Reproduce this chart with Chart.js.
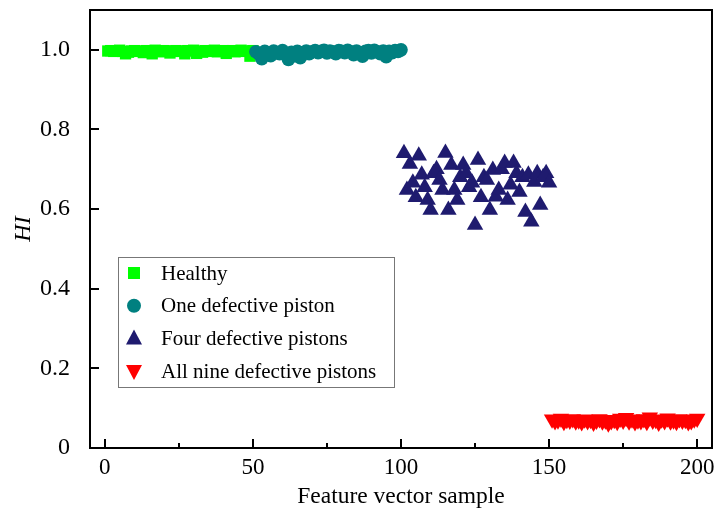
<!DOCTYPE html>
<html>
<head>
<meta charset="utf-8">
<script src="https://cdn.jsdelivr.net/npm/chart.js@4/dist/chart.umd.min.js"></script>
<style>
html,body{margin:0;padding:0;background:#fff;}
#wrap{width:716px;height:520px;}
</style>
</head>
<body>
<div id="wrap"><canvas id="c" width="716" height="520"></canvas></div>
<script>
// ---- data ----
const seriesNames = ["Healthy", "One defective piston", "Four defective pistons", "All nine defective pistons"];

const healthyX = [1,2,3,4,5,6,7,8,9,10,11,12,13,14,15,16,17,18,19,20,21,22,23,24,25,26,27,28,29,30,31,32,33,34,35,36,37,38,39,40,41,42,43,44,45,46,47,48,49,50];
const healthyY = [0.997,0.998,0.996,0.997,0.999,0.996,0.990,0.994,0.997,0.998,
                  0.996,0.997,0.993,0.998,0.997,0.990,0.999,0.997,0.995,0.998,
                  0.997,0.992,0.996,0.998,0.997,0.996,0.990,0.998,0.997,0.999,
                  0.991,0.997,0.994,0.998,0.996,0.997,0.999,0.995,0.997,0.998,
                  0.991,0.997,0.998,0.995,0.997,0.999,0.996,0.997,0.984,0.998];

const oneX = [51,52,53,54,55,56,57,58,59,60,61,62,63,64,65,66,67,68,69,70,71,72,73,74,75,76,77,78,79,80,81,82,83,84,85,86,87,88,89,90,91,92,93,94,95,96,97,98,99,100];
const oneY = [0.995,0.990,0.978,0.996,0.992,0.985,0.997,0.993,0.990,0.998,
              0.988,0.976,0.994,0.985,0.996,0.980,0.993,0.997,0.990,0.995,
              0.998,0.993,0.996,0.999,0.992,0.997,0.995,0.990,0.998,0.996,
              0.993,0.999,0.995,0.988,0.997,0.993,0.984,0.996,0.998,0.992,
              0.999,0.995,0.990,0.997,0.983,0.996,0.993,0.998,0.996,1.000];

const fourX = [101,102,103,104,105,106,107,108,109,110,111,112,113,114,115,116,117,118,119,120,121,122,123,124,125,126,127,128,129,130,131,132,133,134,135,136,137,138,139,140,141,142,143,144,145,146,147,148,149,150];
const fourY = [0.740,0.648,0.713,0.666,0.630,0.734,0.686,0.655,0.623,0.598,
               0.690,0.700,0.673,0.648,0.741,0.598,0.711,0.648,0.623,0.680,
               0.711,0.690,0.655,0.666,0.560,0.723,0.630,0.680,0.673,0.598,
               0.698,0.631,0.648,0.700,0.716,0.623,0.661,0.716,0.690,0.643,
               0.680,0.593,0.686,0.568,0.668,0.690,0.610,0.680,0.690,0.666];

const nineX = [151,152,153,154,155,156,157,158,159,160,161,162,163,164,165,166,167,168,169,170,171,172,173,174,175,176,177,178,179,180,181,182,183,184,185,186,187,188,189,190,191,192,193,194,195,196,197,198,199,200];
const nineY = [0.072,0.068,0.070,0.074,0.066,0.071,0.069,0.073,0.067,0.070,
               0.065,0.072,0.068,0.071,0.064,0.069,0.073,0.067,0.070,0.062,
               0.068,0.071,0.066,0.074,0.069,0.076,0.067,0.072,0.065,0.070,
               0.068,0.073,0.066,0.077,0.069,0.071,0.064,0.072,0.068,0.075,
               0.067,0.070,0.066,0.073,0.069,0.071,0.065,0.068,0.072,0.074];

const xTickValues = [0, 50, 100, 150, 200];
const xTickLabels = ["0", "50", "100", "150", "200"];
const xMinorTicks = [25, 75, 125, 175];
const yTickValues = [0, 0.2, 0.4, 0.6, 0.8, 1.0];
const yTickLabels = ["0", "0.2", "0.4", "0.6", "0.8", "1.0"];

const xTitle = "Feature vector sample";
const yTitle = "HI";

// ---- styling ----
const colors = ["#00ff00", "#008080", "#1f1b6f", "#ff0000"];
const FONT = "'Liberation Serif', 'Times New Roman', serif";

function pts(xs, ys) { return xs.map((x, i) => ({x: x, y: ys[i]})); }

function drawMarker(ctx, kind, x, y, color) {
  ctx.save();
  ctx.fillStyle = color;
  ctx.beginPath();
  if (kind === 0) {
    ctx.rect(x - 6, y - 6, 12, 12);
  } else if (kind === 1) {
    ctx.arc(x, y, 7, 0, Math.PI * 2);
  } else if (kind === 2) {
    ctx.moveTo(x, y - 9); ctx.lineTo(x + 8, y + 6); ctx.lineTo(x - 8, y + 6); ctx.closePath();
  } else {
    ctx.moveTo(x, y + 9); ctx.lineTo(x + 8, y - 6); ctx.lineTo(x - 8, y - 6); ctx.closePath();
  }
  ctx.fill();
  ctx.restore();
}

function noPad(s) { s.paddingTop = 0; s.paddingBottom = 0; s.paddingLeft = 0; s.paddingRight = 0; }

const framePlugin = {
  id: 'frame',
  afterDraw(chart) {
    const ctx = chart.ctx;
    const a = chart.chartArea;
    const xs = chart.scales.x, ys = chart.scales.y;
    ctx.save();
    ctx.strokeStyle = '#000';
    ctx.lineWidth = 2;
    ctx.strokeRect(a.left, a.top, a.right - a.left, a.bottom - a.top);
    ctx.beginPath();
    xTickValues.forEach(v => {
      const px = Math.round(xs.getPixelForValue(v));
      ctx.moveTo(px, a.bottom); ctx.lineTo(px, a.bottom - 9);
    });
    xMinorTicks.forEach(v => {
      const px = Math.round(xs.getPixelForValue(v));
      ctx.moveTo(px, a.bottom); ctx.lineTo(px, a.bottom - 5);
    });
    yTickValues.forEach(v => {
      const py = Math.round(ys.getPixelForValue(v));
      ctx.moveTo(a.left, py); ctx.lineTo(a.left + 9, py);
    });
    ctx.stroke();

    // legend box
    const lx = 118, ly = 257, lw = 276, lh = 130;
    ctx.fillStyle = '#fff';
    ctx.fillRect(lx, ly, lw, lh);
    ctx.strokeStyle = '#777';
    ctx.lineWidth = 1;
    ctx.strokeRect(lx + 0.5, ly + 0.5, lw, lh);
    ctx.font = "21px " + FONT;
    ctx.textBaseline = 'middle';
    ctx.textAlign = 'left';
    seriesNames.forEach((name, i) => {
      const cy = 273 + i * 32.7;
      drawMarker(ctx, i, 134, cy, colors[i]);
      ctx.fillStyle = '#000';
      ctx.fillText(name, 161, cy + 1);
    });
    ctx.restore();
  }
};

new Chart(document.getElementById('c'), {
  type: 'scatter',
  data: {
    datasets: [
      {label: seriesNames[0], data: pts(healthyX, healthyY), pointStyle: 'rect', pointRadius: 8, backgroundColor: colors[0], borderWidth: 0, order: 4},
      {label: seriesNames[1], data: pts(oneX, oneY), pointStyle: 'circle', pointRadius: 6.8, backgroundColor: colors[1], borderWidth: 0, order: 3},
      {label: seriesNames[2], data: pts(fourX, fourY), pointStyle: 'triangle', pointRadius: 9.5, backgroundColor: colors[2], borderWidth: 0, order: 2},
      {label: seriesNames[3], data: pts(nineX, nineY), pointStyle: 'triangle', pointRotation: 180, pointRadius: 9.5, backgroundColor: colors[3], borderWidth: 0, order: 1}
    ]
  },
  options: {
    responsive: false,
    animation: false,
    devicePixelRatio: 1,
    layout: {autoPadding: false, padding: {top: 10, right: 4, left: 0, bottom: 0}},
    plugins: {legend: {display: false}, tooltip: {enabled: false}},
    scales: {
      x: {
        type: 'linear', min: -5, max: 205,
        grid: {display: false, drawTicks: false}, border: {display: false},
        afterBuildTicks: s => { s.ticks = xTickValues.map(v => ({value: v})); },
        afterFit: s => { s.height = 72; noPad(s); },
        ticks: {
          callback: (v) => xTickLabels[xTickValues.indexOf(v)],
          font: {family: FONT, size: 23}, color: '#000', padding: 6, maxRotation: 0, autoSkip: false
        },
        title: {display: true, text: xTitle, font: {family: FONT, size: 23.5}, color: '#000', padding: {top: 0, bottom: 9}}
      },
      y: {
        type: 'linear', min: 0, max: 1.1,
        grid: {display: false, drawTicks: false}, border: {display: false},
        afterBuildTicks: s => { s.ticks = yTickValues.map(v => ({value: v})); },
        afterFit: s => { s.width = 90; noPad(s); },
        ticks: {
          callback: (v) => { const i = yTickValues.findIndex(t => Math.abs(t - v) < 1e-9); return i >= 0 ? yTickLabels[i] : ''; },
          font: {family: FONT, size: 24}, color: '#000', padding: 20
        },
        title: {display: true, text: yTitle, font: {family: FONT, size: 24, style: 'italic'}, color: '#000', padding: {top: 9, bottom: 0}}
      }
    }
  },
  plugins: [framePlugin]
});
</script>
</body>
</html>
